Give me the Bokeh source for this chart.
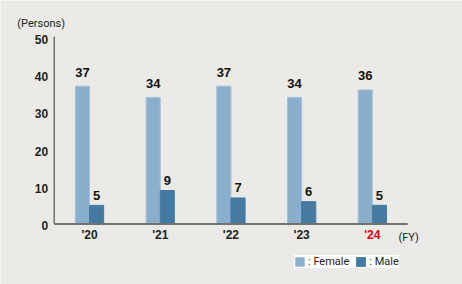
from bokeh.plotting import figure
from bokeh.models import ColumnDataSource, Range1d, Legend, LegendItem
from bokeh.core.properties import value
from bokeh.embed import file_html
from bokeh.resources import INLINE

years = ["'20", "'21", "'22", "'23", "'24"]
female = [37, 34, 37, 34, 36]
male = [5, 9, 7, 6, 5]
year_colors = ["#222222", "#222222", "#222222", "#222222", "#e60012"]
y_ticks = [0, 10, 20, 30, 40, 50]

BG = "#ebeae6"
C_F = "#8aafcd"
C_M = "#457ba2"
TXT = "#222222"

idx = list(range(len(years)))
src = ColumnDataSource(dict(
    i=idx,
    fx=[i - 0.1 for i in idx],
    mx=[i + 0.1 for i in idx],
    year=years, female=female, male=male, ycol=year_colors,
    zero=[0] * len(years),
    ftxt=[str(v) for v in female], mtxt=[str(v) for v in male]))

W, H = 462, 284
# frame covers whole canvas; ranges chosen so the axes sit where the reference has them
x_lo, x_hi = -1.259, 5.275
y_lo, y_hi = -16.25, 60.02

p = figure(width=W, height=H, x_range=Range1d(x_lo, x_hi), y_range=Range1d(y_lo, y_hi),
           output_backend="svg", toolbar_location=None,
           x_axis_location=None, y_axis_location=None,
           min_border=0, min_border_left=0, min_border_right=0,
           min_border_top=0, min_border_bottom=0)
p.background_fill_color = BG
p.border_fill_color = BG
p.outline_line_color = None
p.xgrid.visible = False
p.ygrid.visible = False

rf = p.vbar(x='fx', top='female', bottom=0, width=0.2, source=src,
            fill_color=C_F, line_color="#a6c1d8", line_width=1)
rm = p.vbar(x='mx', top='male', bottom=0, width=0.2, source=src,
            fill_color=C_M, line_color=C_M, line_width=1)

# axis lines
left = -0.5
right = len(years) - 0.5
p.segment(x0=[left], y0=[0], x1=[left], y1=[y_ticks[-1] + 0.3], line_color="#333333", line_width=1)
p.segment(x0=[left], y0=[0], x1=[right], y1=[0], line_color="#727272", line_width=2.2)

# y tick labels
p.text(x=[left] * len(y_ticks), y=y_ticks, text=[str(t) for t in y_ticks],
       x_offset=-6, y_offset=1.5, text_align="right", text_baseline="middle",
       text_font=value("Liberation Sans"), text_font_style="bold",
       text_font_size="12px", text_color=TXT)

# x tick labels
p.text(x='i', y='zero', text='year', source=src, text_color='ycol',
       y_offset=11, text_align="center", text_baseline="middle",
       text_font=value("Liberation Sans"), text_font_style="bold", text_font_size="12px")

# value labels
p.text(x='fx', y='female', text='ftxt', source=src, y_offset=-14,
       text_align="center", text_baseline="middle",
       text_font=value("Liberation Sans"), text_font_style="bold",
       text_font_size="13px", text_color="#111111")
p.text(x='mx', y='male', text='mtxt', source=src, y_offset=-10,
       text_align="center", text_baseline="middle",
       text_font=value("Liberation Sans"), text_font_style="bold",
       text_font_size="13px", text_color="#111111")

# unit labels
p.text(x=[left], y=[y_ticks[-1]], text=["(Persons)"], x_offset=-13, y_offset=-14.5,
       text_align="center", text_baseline="middle", text_font=value("Roboto"),
       text_font_size="11px", text_color=TXT)
p.text(x=[right], y=[0], text=["(FY)"], x_offset=1, y_offset=13.5,
       text_align="center", text_baseline="middle", text_font=value("Roboto"),
       text_font_size="11px", text_color=TXT)

legend = Legend(items=[LegendItem(label=": Female", renderers=[rf]),
                       LegendItem(label=": Male", renderers=[rm])],
                location=(294, 16), orientation="horizontal",
                background_fill_color="white", background_fill_alpha=1,
                border_line_color=None, padding=5, spacing=6, margin=0,
                glyph_width=11, glyph_height=11, label_standoff=3,
                label_text_font="Roboto", label_text_font_size="11px",
                label_text_color=TXT, label_height=11, label_text_baseline="middle")
p.add_layout(legend, "center")

open("out.html", "w").write(file_html(p, INLINE))
